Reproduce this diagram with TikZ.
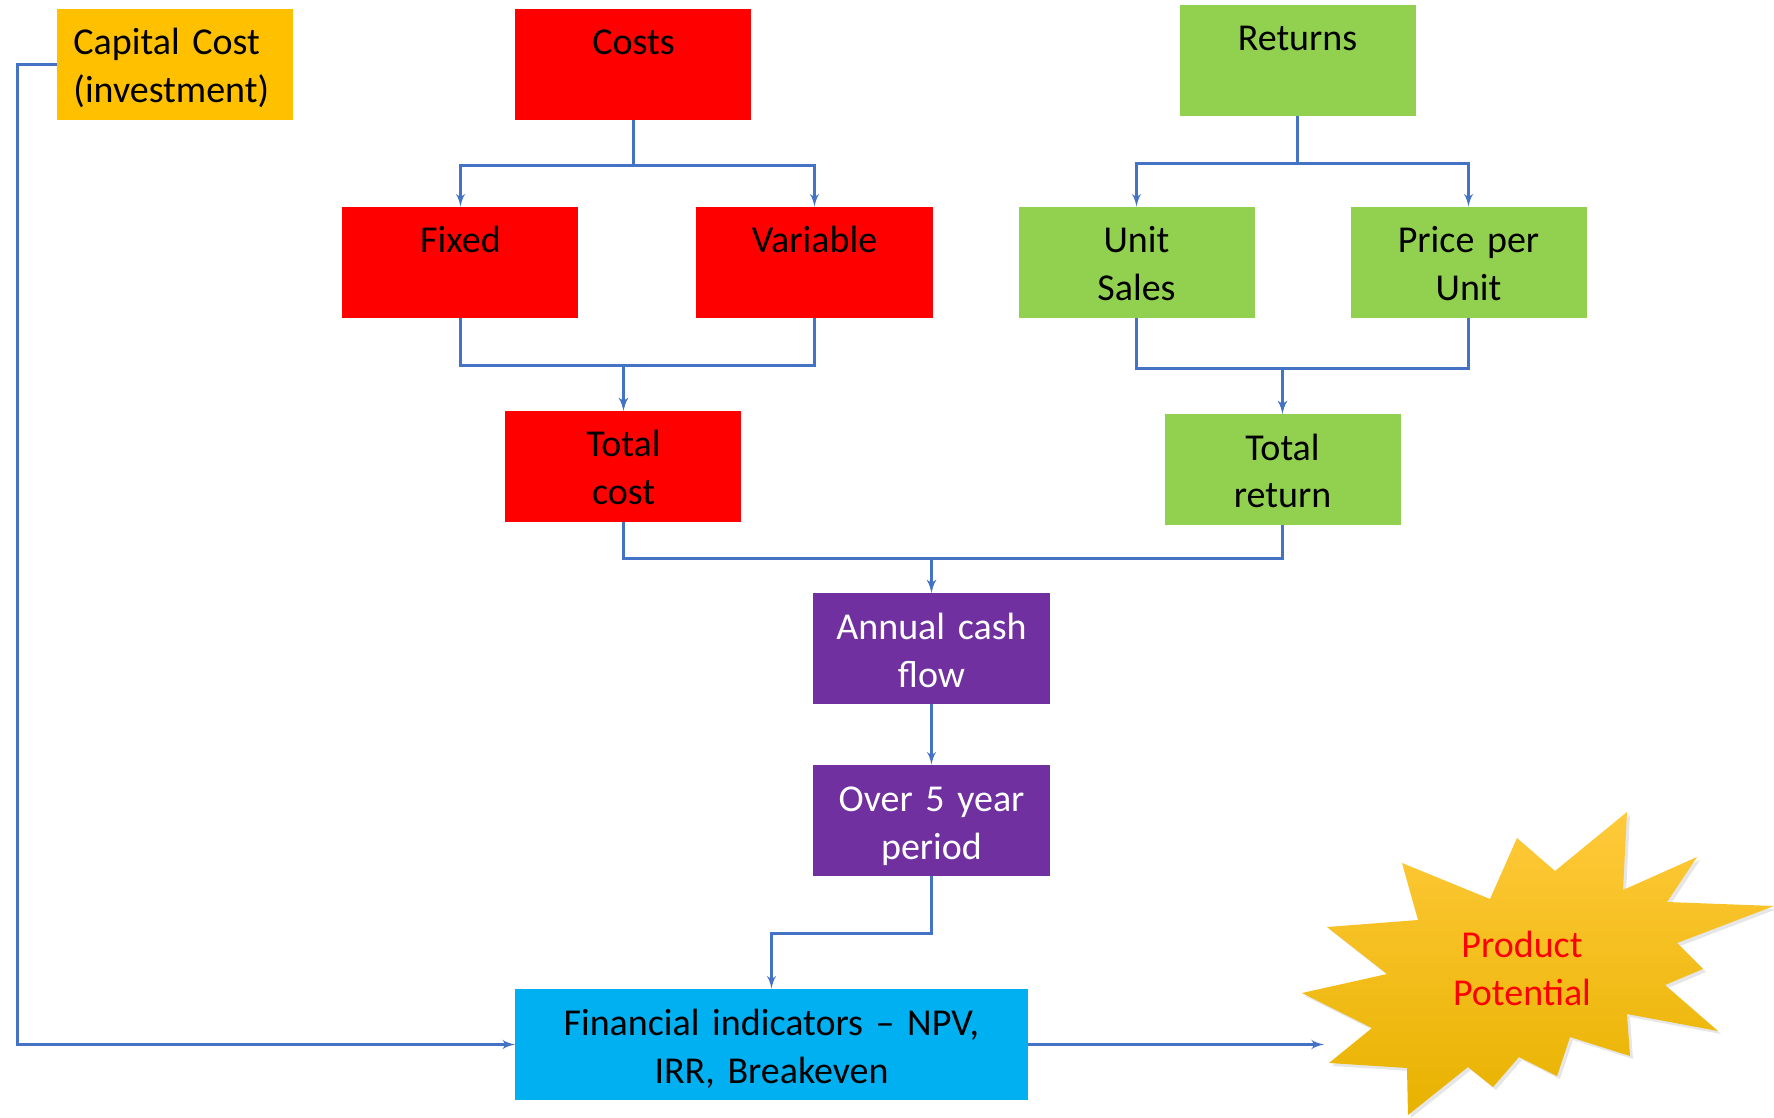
\documentclass[tikz,border=0pt]{standalone}
\usepackage{fontspec}
\setmainfont{Carlito}
\usepackage{tikz}
\usetikzlibrary{arrows,shadows}
\definecolor{costred}{HTML}{FF0000}
\definecolor{returngreen}{HTML}{92D050}
\definecolor{capamber}{HTML}{FFC000}
\definecolor{cashpurple}{HTML}{7030A0}
\definecolor{resultblue}{HTML}{00B0F0}
\definecolor{linkblue}{HTML}{4472C4}
\definecolor{burstlight}{HTML}{FFCA3A}
\definecolor{burstdark}{HTML}{E8B200}
\newcommand{\boxfont}{\fontsize{19}{24}\selectfont}
\tikzstyle{line} = [draw, -latex', color=linkblue, line width=1.2pt]
\tikzstyle{block} = [rectangle, text centered, text width=110pt, inner xsep=4pt, inner ysep=0pt, minimum height=55.5pt, text height=23pt, text depth=32.5pt, font=\boxfont]
\tikzstyle{costblock} = [block, fill=costred]
\tikzstyle{returnblock} = [block, fill=returngreen]
\tikzstyle{cashblock} = [block, fill=cashpurple, text=white]
\tikzstyle{capblock} = [block, fill=capamber, text width=102pt, inner xsep=8pt, align=left]
\tikzstyle{resultblock} = [block, fill=resultblue, text width=248pt]
\tikzstyle{burst} = [top color=burstlight, bottom color=burstdark, drop shadow={shadow xshift=1.5pt, shadow yshift=-1.5pt, opacity=0.2}]

\begin{document}
\begin{tikzpicture}[node distance=99pt]
        \node[costblock] (costs) {Costs};
        \node[capblock, left of=costs, node distance=229pt] (capital) {Capital Cost\\(investment)};
        \node[returnblock, right of=costs, node distance=332pt, yshift=2pt] (returns) {Returns};
        \node[costblock, below of=costs, xshift=-86.5pt] (fixed) {Fixed};
        \node[costblock, right of=fixed, node distance=177pt] (variable) {Variable};
        \node[returnblock, right of=variable, node distance=161pt] (unit) {Unit\\Sales};
        \node[returnblock, right of=unit, node distance=166pt] (price) {Price per\\Unit};
        \node[costblock, below of=fixed, node distance=102pt, xshift=81.5pt] (totalcost) {Total\\cost};
        \node[returnblock, below of=unit, node distance=103.5pt, xshift=73pt] (totalreturn) {Total\\return};
        \node[cashblock, below of=totalcost, node distance=91pt, xshift=154pt] (annual) {Annual cash\\flow};
        \node[cashblock, below of=annual, node distance=86pt] (period) {Over 5 year\\period};
        \node[resultblock, below of=period, node distance=112pt, xshift=-80pt] (indicators) {Financial indicators – NPV,\\IRR, Breakeven};
        % starburst, drawn in pixel units
        \begin{scope}[shift={(-316.75pt,32.25pt)}, x=0.5pt, y=-0.5pt]
            \useasboundingbox (0,0) rectangle (1774,1118);
            \path[burst] (1627,812) -- (1623,890) -- (1697,857) -- (1667,902) -- (1774,906) -- (1677,943)
                -- (1703,969) -- (1665,985) -- (1718,1031) -- (1627,1014) -- (1630,1056) -- (1570,1037)
                -- (1557,1076) -- (1519,1057) -- (1493,1087) -- (1468,1067) -- (1408,1115) -- (1407,1068)
                -- (1329,1063) -- (1372,1028) -- (1302,993) -- (1387,974) -- (1327,927) -- (1418,920)
                -- (1402,863) -- (1490,899) -- (1517,838) -- (1555,871) -- cycle;
            \node[font=\boxfont, text=red, align=center] (potential) at (1522,968) {Product\\Potential};
            \coordinate (burstedge) at (1324,1043);
        \end{scope}
        \path[line] (costs.south) -- ++(0,-22.5pt) -| (fixed.north);
        \path[line] (costs.south) -- ++(0,-22.5pt) -| (variable.north);
        \path[line] (returns.south) -- ++(0,-23.5pt) -| (unit.north);
        \path[line] (returns.south) -- ++(0,-23.5pt) -| (price.north);
        \path[line] (fixed.south) -- ++(0,-23.5pt) -| (totalcost.north);
        \path[line] (variable.south) -- ++(0,-23.5pt) -| (totalcost.north);
        \path[line] (unit.south) -- ++(0,-25pt) -| (totalreturn.north);
        \path[line] (price.south) -- ++(0,-25pt) -| (totalreturn.north);
        \path[line] (totalcost.south) -- ++(0,-18pt) -| (annual.north);
        \path[line] (totalreturn.south) -- ++(0,-16.5pt) -| (annual.north);
        \path[line] (annual) -- (period);
        \path[line] (period.south) -- ++(0,-28.5pt) -| (indicators.north);
        \path[line] (capital.west) -- ++(-19.75pt,0) |- (indicators.west);
        \path[line] (indicators.east) -- (indicators.east -| burstedge);
    \end{tikzpicture}
\end{document}
